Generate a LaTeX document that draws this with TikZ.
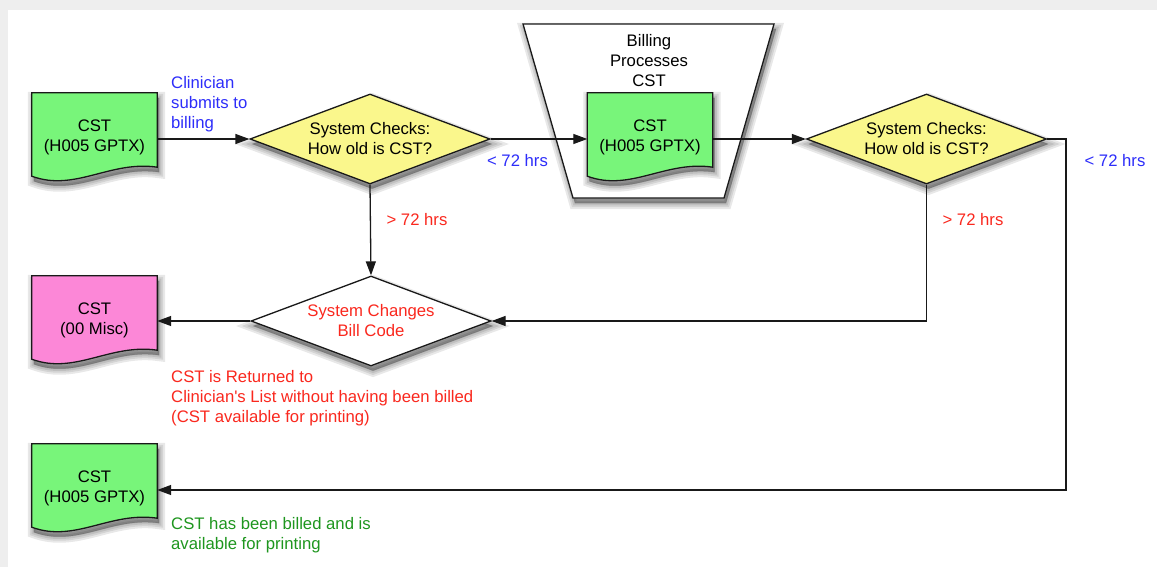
\documentclass[tikz,border=0pt]{standalone}
\usepackage{fontspec}
\setmainfont{Liberation Sans}
\usetikzlibrary{arrows.meta,shapes.geometric}

\definecolor{ink}{RGB}{25,25,25}
\definecolor{docgreen}{RGB}{120,245,122}
\definecolor{docpink}{RGB}{252,135,215}
\definecolor{checkyellow}{RGB}{250,247,140}
\definecolor{txtblue}{RGB}{45,45,250}
\definecolor{txtred}{RGB}{250,40,30}
\definecolor{txtgreen}{RGB}{30,150,30}
\definecolor{paperedge}{RGB}{238,238,238}

\pgfdeclarelayer{paper}
\pgfdeclarelayer{shapes}
\pgfsetlayers{paper,shapes,main}

% document symbol: straight top and sides, wavy bottom edge
\newcommand\docoutline[2]{%
  \path[docshape,fill=#2]
    (#1.north west) -- (#1.north east) -- ([yshift=9pt]#1.south east)
    .. controls ([xshift=-47pt,yshift=16pt]#1.south east)
       and ([xshift=43pt,yshift=-16pt]#1.south west) .. (#1.south west)
    -- cycle;}
% extra head room so the two text lines sit a little lower in a document box
\newcommand\docstrut{\rule{0pt}{17.5pt}}

\begin{document}
\begin{tikzpicture}[x=1pt,y=-1pt,
  every node/.style={font=\fontsize{16.7}{20}\selectfont,inner sep=0pt},
  shadowring/.style={preaction={draw=black,fill=black,opacity=0.09,line width=#1,
      transform canvas={shift={(2pt,-5pt)}}}},
  softshadow/.style={shadowring=12pt,shadowring=8pt,shadowring=4.5pt,shadowring=1pt},
  docbox/.style={minimum width=125pt,minimum height=83pt,align=center},
  docshape/.style={draw=ink,line width=1.3pt,softshadow},
  decision/.style={diamond,draw=ink,line width=1.3pt,aspect=2.67,
      minimum width=240pt,minimum height=90pt,align=center,softshadow},
  flow/.style={draw=ink,line width=1.3pt,-{Triangle[length=14pt,width=10pt]}},
  note/.style={align=left,anchor=north west},
]
\useasboundingbox (0,0) rectangle (1157,567);

% page
\begin{pgfonlayer}{paper}
  \fill[paperedge] (0,0) rectangle (1157,567);
  \fill[white] (8,10) rectangle (1157,567);
\end{pgfonlayer}

% documents
\node[docbox] (d1) at (94.5,134.5) {\docstrut CST\\(H005 GPTX)};
\node[docbox] (d2) at (650,134.5) {\docstrut CST\\(H005 GPTX)};
\node[docbox] (d4) at (94.5,317.5) {\docstrut CST\\(00 Misc)};
\node[docbox] (d5) at (94.5,485.5) {\docstrut CST\\(H005 GPTX)};

% billing stage
\node (bill) at (649,61) [align=center] {Billing\\Processes\\CST};

\begin{pgfonlayer}{shapes}
  \path[docshape,fill=white] (523,24) -- (774,24) -- (724,198) -- (573,198) -- cycle;
  \docoutline{d1}{docgreen}
  \docoutline{d2}{docgreen}
  \docoutline{d4}{docpink}
  \docoutline{d5}{docgreen}
\end{pgfonlayer}

% decisions
\node[decision,fill=checkyellow] (c1) at (370,139) {System Checks:\\How old is CST?};
\node[decision,fill=checkyellow] (c2) at (926.5,139) {System Checks:\\How old is CST?};
\node[decision,fill=white,text=txtred] (ch) at (371,321) {System Changes\\Bill Code};

\coordinate (turn) at (1066,490);

% connectors
\draw[flow] (d1.east |- c1.west) -- (c1.west);
\draw[flow] (c1.east) -- (d2.west |- c1.east);
\draw[flow] (d2.east |- c2.west) -- (c2.west);
\draw[flow] (c1.south) -- (ch.north);
\draw[flow] (c2.south) |- (ch.east);
\draw[flow] (ch.west) -- (d4.east |- ch.west);
\draw[flow] (c2.east) -| (turn) -- (d5.east |- turn);

% labels
\node[note,text=txtblue] (lsub) at (171,76) {Clinician\\submits to\\billing};
\node[text=txtblue] (lt1) at (517.5,161) {< 72 hrs};
\node[text=txtblue] (lt2) at (1115,161) {< 72 hrs};
\node[text=txtred] (gt1) at (417,220) {> 72 hrs};
\node[text=txtred] (gt2) at (973,220) {> 72 hrs};
\node[note,text=txtred] (lret) at (171,370)
  {CST is Returned to\\Clinician\textquotesingle s List without having been billed\\(CST available for printing)};
\node[note,text=txtgreen] (lbill) at (171,517) {CST has been billed and is\\available for printing};

\end{tikzpicture}
\end{document}
